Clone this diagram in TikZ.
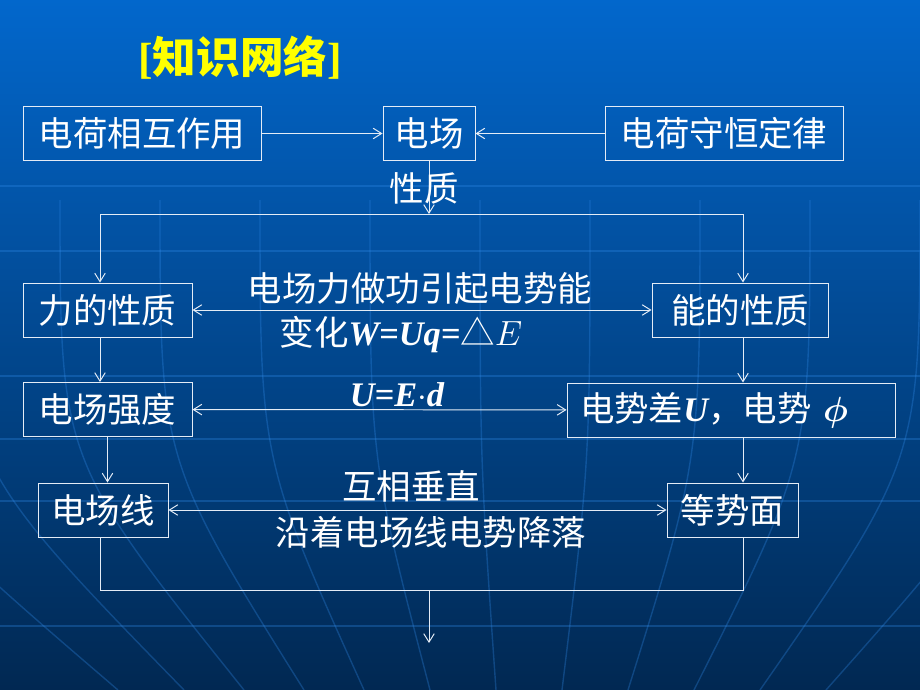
\documentclass[tikz,border=0pt]{standalone}
\usepackage{fontspec}
\setmainfont{Noto Sans CJK SC}
\newfontfamily\tms{Liberation Serif}
\usepackage{bm}
\def\px{0.025cm}
\usepackage{tikz}
\usetikzlibrary{arrows.meta}
\definecolor{bgtop}{RGB}{2,103,204}
\definecolor{bgbot}{RGB}{1,40,82}
\definecolor{globe}{RGB}{50,140,235}
\definecolor{titleyellow}{RGB}{255,255,0}
\definecolor{framewhite}{RGB}{228,236,246}

\begin{document}
\begin{tikzpicture}[x=\px, y=-\px, >={Straight Barb[length=6pt, width=7.5pt]}, font=\fontsize{24.5pt}{29pt}\selectfont]
	\tikzstyle{box}=[draw=framewhite, line width=0.7pt, text=white, inner sep=0pt, minimum height=54*\px]
	\tikzstyle{annot}=[text=white, inner sep=0pt]
	\tikzstyle{link}=[draw=framewhite, line width=0.7pt]
	\tikzstyle{globe line}=[draw=globe, line width=1pt, opacity=0.3]
	\useasboundingbox (0,0) rectangle (920,690);
	
	% Draw the background
	\shade[top color=bgtop, bottom color=bgbot] (0,0) rectangle (920,690);
	\foreach \yy in {186,251,376,439,501,626}
		\draw[globe line] (0,\yy) -- (920,\yy);
	\foreach \xt/\xb in {-150/118,-40/184,60/244,160/304,260/364,370/430,480/496,590/562,700/628,810/694,920/760,1030/826}
		\draw[globe line] (\xt,200) .. controls (\xt,460) .. (\xb,690);
	
	% Draw the title
	\node[text=titleyellow, font=\fontsize{31pt}{36pt}\selectfont\bfseries] (title) at (240,57) {{\tms\bfseries[}知识网络{\tms\bfseries]}};
	
	% Draw the top row
	\node[box, minimum width=238*\px] (charge) at (142,133.5) {电荷相互作用};
	\node[box, minimum width=92*\px] (field) at (429,133.5) {电场};
	\node[box, minimum width=238*\px] (conserve) at (724,133.5) {电荷守恒定律};
	
	% Draw the properties
	\node[box, minimum width=169*\px] (force_prop) at (107.5,310) {力的性质};
	\node[box, minimum width=176*\px] (energy_prop) at (740,310) {能的性质};
	
	% Draw intensity and potential
	\node[box, minimum width=169*\px] (intensity) at (107.5,409.5) {电场强度};
	\node[box, text width=302*\px, inner xsep=13*\px, align=left] (potential) at (731,410) {电势差{\tms\bfseries\itshape U}，电势 $\bm\phi$};
	
	% Draw field lines and equipotential surfaces
	\node[box, minimum width=130*\px] (field_line) at (103,510) {电场线};
	\node[box, minimum width=131*\px] (equipot) at (732.5,510) {等势面};
	
	% Split points
	\coordinate (top) at (429,214);
	\coordinate (topL) at (100,214);
	\coordinate (topR) at (743,214);
	\coordinate (bot) at (429,590);
	\coordinate (botL) at (100,590);
	\coordinate (botR) at (743,590);
	\coordinate (out) at (429,643);
	
	% Draw arrows
	\draw[link, ->] (charge) -- (field);
	\draw[link, ->] (conserve) -- (field);
	\draw[link, ->] (field) -- (top);
	\draw[link] (topL) -- (topR);
	\draw[link, ->] (topL) -- (topL |- force_prop.north);
	\draw[link, ->] (topR) -- (topR |- energy_prop.north);
	\draw[link, <->] (force_prop) -- (energy_prop);
	\draw[link, ->] (force_prop.south -| topL) -- (intensity.north -| topL);
	\draw[link, ->] (energy_prop.south -| topR) -- (potential.north -| topR);
	\draw[link, <->] (intensity) -- (potential);
	\draw[link, ->] (intensity.south) -- (intensity.south |- field_line.north);
	\draw[link, ->] (potential.south -| topR) -- (equipot.north -| topR);
	\draw[link, <->] (field_line) -- (equipot);
	\draw[link] (field_line.south -| botL) -- (botL) -- (botR) -- (equipot.south -| botR);
	\draw[link, ->] (bot) -- (out);
	
	% Annotate the links
	\node[annot] (nature) at (424,188) {性质};
	\node[annot] (work) at (420,289) {电场力做功引起电势能};
	\node[annot] (change) at (401,335) {变化{\tms\bfseries\itshape W=Uq=}△$E$};
	\node[annot] (relation) at (397,395) {{\tms\bfseries\itshape U=E$\cdot$d}};
	\node[annot] (perp) at (411,486) {互相垂直};
	\node[annot] (drop) at (431,532) {沿着电场线电势降落};
\end{tikzpicture}
\end{document}
